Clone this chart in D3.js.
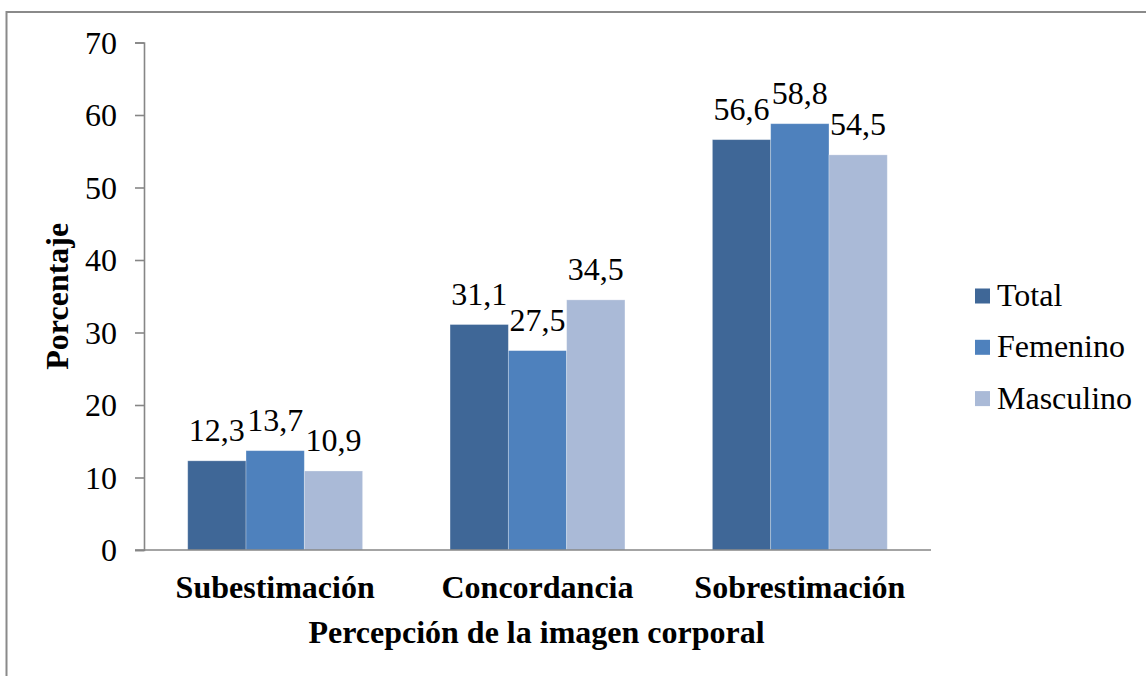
<!DOCTYPE html>
<html>
<head>
<meta charset="utf-8">
<script src="https://cdn.jsdelivr.net/npm/d3@7"></script>
<style>
  html, body { margin: 0; padding: 0; background: #fff; }
  svg { display: block; }
  text { font-family: "Liberation Serif", "Times New Roman", serif; fill: #000; }
</style>
</head>
<body>
<svg id="chart" width="1146" height="676"></svg>
<script>
const categories = ["Subestimación", "Concordancia", "Sobrestimación"];
const seriesNames = ["Total", "Femenino", "Masculino"];
const total = [12.3, 31.1, 56.6];
const femenino = [13.7, 27.5, 58.8];
const masculino = [10.9, 34.5, 54.5];
const yTicks = [0, 10, 20, 30, 40, 50, 60, 70];
const colors = ["#3F6797", "#4E81BD", "#AABAD7"];
const yTitle = "Porcentaje";
const xTitle = "Percepción de la imagen corporal";

const seriesValues = [total, femenino, masculino];
const fmt = v => v.toFixed(1).replace(".", ",");
const FS = 32;

const svg = d3.select("#chart");
const plot = { left: 144, right: 931, top: 42.5, bottom: 550 };

// outer frame (extends beyond right/bottom edges)
svg.append("rect")
  .attr("x", 6.5).attr("y", 12)
  .attr("width", 1300).attr("height", 800)
  .attr("fill", "none").attr("stroke", "#8a8a8a").attr("stroke-width", 2);

const x0 = d3.scaleBand().domain(categories).range([plot.left, plot.right]).padding(0);
const x1 = d3.scaleBand().domain(seriesNames).range([0, x0.bandwidth()]).paddingInner(0).paddingOuter(0.75);
const y = d3.scaleLinear().domain([0, 70]).range([plot.bottom, plot.top]);

// y axis
const yAxis = d3.axisLeft(y).tickValues(yTicks).tickSize(9).tickPadding(18).tickFormat(d3.format("d"));
const gy = svg.append("g").attr("transform", `translate(${plot.left},0)`).call(yAxis);
gy.select(".domain").attr("stroke", "#868686").attr("stroke-width", 1.6);
gy.selectAll(".tick line").attr("stroke", "#868686").attr("stroke-width", 1.6);
gy.selectAll(".tick text")
  .attr("font-size", FS)
  .attr("fill", "#000")
  .attr("dy", "0.34em");

// bars
const groups = svg.append("g").selectAll("g")
  .data(categories)
  .join("g")
  .attr("transform", d => `translate(${x0(d)},0)`);

groups.selectAll("rect")
  .data((c, i) => seriesNames.map((s, j) => ({ s, v: seriesValues[j][i], j })))
  .join("rect")
  .attr("x", d => x1(d.s))
  .attr("width", x1.bandwidth())
  .attr("y", d => y(d.v))
  .attr("height", d => y(0) - y(d.v))
  .attr("fill", d => colors[d.j])
  .attr("stroke", "rgba(255,255,255,0.35)")
  .attr("stroke-width", 0.8);

groups.selectAll("text.lbl")
  .data((c, i) => seriesNames.map((s, j) => ({ s, v: seriesValues[j][i], j })))
  .join("text")
  .attr("class", "lbl")
  .attr("x", d => x1(d.s) + x1.bandwidth() / 2)
  .attr("y", d => y(d.v) - 20)
  .attr("text-anchor", "middle")
  .attr("font-size", FS)
  .text(d => fmt(d.v));

// x axis
const xAxis = d3.axisBottom(x0).tickSize(0).tickPadding(0);
const gx = svg.append("g").attr("transform", `translate(0,${plot.bottom})`).call(xAxis);
gx.select(".domain").attr("stroke", "#868686").attr("stroke-width", 1.6)
  .attr("d", `M${plot.left - 9},0H${plot.right}`);
gx.selectAll(".tick text")
  .attr("font-size", FS)
  .attr("font-weight", "bold")
  .attr("fill", "#000")
  .attr("y", 48)
  .attr("dy", 0);

// axis titles
svg.append("text")
  .attr("x", (plot.left + plot.right) / 2 - 1)
  .attr("y", 643)
  .attr("text-anchor", "middle")
  .attr("font-size", FS)
  .attr("font-weight", "bold")
  .text(xTitle);

svg.append("text")
  .attr("transform", `translate(68,${(plot.top + plot.bottom) / 2}) rotate(-90)`)
  .attr("text-anchor", "middle")
  .attr("font-size", FS)
  .attr("font-weight", "bold")
  .text(yTitle);

// legend
const legend = svg.append("g").selectAll("g")
  .data(seriesNames)
  .join("g")
  .attr("transform", (d, i) => `translate(975,${296 + i * 51.3})`);
legend.append("rect")
  .attr("x", 0).attr("y", -7.5)
  .attr("width", 15).attr("height", 15)
  .attr("fill", (d, i) => colors[i]);
legend.append("text")
  .attr("x", 22).attr("y", 10)
  .attr("font-size", FS)
  .text(d => d);
</script>
</body>
</html>
